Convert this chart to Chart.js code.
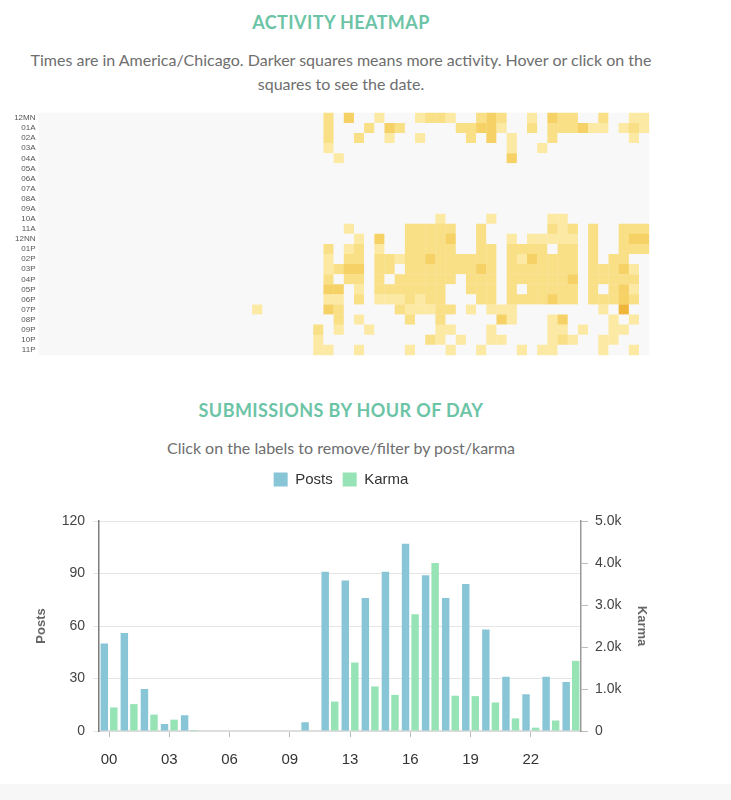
<!DOCTYPE html>
<html>
<head>
<meta charset="utf-8">
<title>Activity</title>
<script src="https://cdn.jsdelivr.net/npm/chart.js@4.4.0/dist/chart.umd.min.js"></script>
<style>
  html, body { margin: 0; padding: 0; background: #fff; }
  body { width: 731px; height: 800px; position: relative; overflow: hidden; font-family: Lato, "Open Sans", sans-serif; }
  .title { position: absolute; left: 0; width: 682px; font-size: 18px; font-weight: 700; color: #6cc4a6; letter-spacing: 0.4px; text-align: center; line-height: 24px; }
  .sub { position: absolute; left: 0; width: 682px; font-size: 16px; color: #6e6e6e; text-align: center; line-height: 24px; }
  canvas { position: absolute; }
  #footer { position: absolute; left: 0; top: 784px; width: 731px; height: 16px; background: #f7f7f7; }
</style>
</head>
<body>
<div class="title" style="top:10px">ACTIVITY HEATMAP</div>
<div class="sub" style="top:48px">Times are in America/Chicago. Darker squares means more activity. Hover or click on the<br>squares to see the date.</div>
<canvas id="heat" width="660" height="252" style="left:0;top:108px"></canvas>
<div class="title" style="top:398px">SUBMISSIONS BY HOUR OF DAY</div>
<div class="sub" style="top:436px">Click on the labels to remove/filter by post/karma</div>
<canvas id="hours" width="660" height="306" style="left:11px;top:462px"></canvas>
<div id="footer"></div>
<script>
// heatmap: one string per hour row, one digit per column (0 = nothing, 4 = most)
var hourRows = ["12MN", "01A", "02A", "03A", "04A", "05A", "06A", "07A", "08A", "09A", "10A", "11A",
  "12NN", "01P", "02P", "03P", "04P", "05P", "06P", "07P", "08P", "09P", "10P", "11P"];
var heatRows = [
  "0000000000 0000000000 0000000020 3001000122 1002320010 3220020011",
  "0000000000 0000000000 0000000020 0020320000 0223310020 2223110121",
  "0000000000 0000000000 0000000020 0200100100 0020301000 2000000010",
  "0000000000 0000000000 0000000010 0000000000 0000001001 0000000000",
  "0000000000 0000000000 0000000001 0000000000 0000003000 0000000000",
  "0000000000 0000000000 0000000000 0000000000 0000000000 0000000000",
  "0000000000 0000000000 0000000000 0000000000 0000000000 0000000000",
  "0000000000 0000000000 0000000000 0000000000 0000000000 0000000000",
  "0000000000 0000000000 0000000000 0000000000 0000000000 0000000000",
  "0000000000 0000000000 0000000000 0000000000 0000000000 0000000000",
  "0000000000 0000000000 0000000000 0000000001 0000100000 1100000000",
  "0000000000 0000000000 0000000000 1000002222 2002000000 2120200222",
  "0000000000 0000000000 0000000000 0103002222 3002001011 1110200233",
  "0000000000 0000000000 0000000020 1201002222 2002202222 0220200222",
  "0000000000 0000000000 0000000010 2202212232 2222202132 2220202200",
  "0000000000 0000000000 0000000012 3302202222 2223202222 2220222310",
  "0000000000 0000000000 0000000020 2202022222 2022202222 2230222220",
  "0000000000 0000000000 0000000033 0102222222 0022202022 2220202310",
  "0000000000 0000000000 0000000011 0201112122 0002202222 3220222320",
  "0000000000 0000000000 0100000032 0000021112 2010111000 0000010400",
  "0000000000 0000000000 0000000002 0100002002 0000031000 1300001010",
  "0000000000 0000000000 0000000201 0010000001 1000100000 1101001100",
  "0000000000 0000000000 0000000100 0000000021 0100110000 1210011000",
  "0000000000 0000000000 0000000110 0100001000 1001000101 1000010010"
];
var heatColors = ["#f8f8f8", "#fce9a4", "#f9df85", "#f6d266", "#f0b63a"];
var nCols = 60;

// bar chart
var hourLabels = ["00", "01", "02", "03", "04", "05", "06", "07", "08", "09", "10", "12",
  "13", "14", "15", "16", "17", "18", "19", "20", "21", "22", "23", "24"];
var posts = [50, 56, 24, 4, 9, 0, 0, 0, 0, 0, 5, 91, 86, 76, 91, 107, 89, 76, 84, 58, 31, 21, 31, 28];
var karma = [560, 640, 390, 270, 25, 0, 0, 0, 0, 0, 0, 700, 1630, 1060, 860, 2780, 4000, 840, 830, 680, 300, 80, 250, 1670];

Chart.defaults.font.family = "'Liberation Sans', Arial, sans-serif";

var cells = [];
heatRows.forEach(function(row, r) {
  var digits = row.replace(/ /g, "");
  for (var c = 0; c < digits.length; c++) {
    cells.push({x: c + 0.5, y: hourRows[r], v: Number(digits[c])});
  }
});

var heatBg = {
  id: "heatBg",
  beforeDatasetsDraw: function(chart) {
    var a = chart.chartArea;
    chart.ctx.save();
    chart.ctx.fillStyle = heatColors[0];
    chart.ctx.fillRect(a.left, a.top, a.width, a.height);
    chart.ctx.restore();
  }
};

function cellRadius(ctx) {
  var a = ctx.chart.chartArea;
  return a ? (a.width / nCols) / Math.SQRT2 + 0.15 : 5;
}

new Chart(document.getElementById("heat"), {
  type: "scatter",
  data: {
    datasets: [{
      data: cells,
      pointStyle: "rect",
      borderWidth: 0,
      backgroundColor: function(ctx) { return heatColors[ctx.raw ? ctx.raw.v : 0]; },
      radius: cellRadius,
      hoverRadius: cellRadius
    }]
  },
  options: {
    responsive: false,
    animation: false,
    layout: {padding: {top: 4, bottom: 4.5, right: 10.7, left: 0}},
    plugins: {legend: {display: false}, tooltip: {enabled: false}},
    scales: {
      x: {type: "linear", min: 0, max: nCols, display: false},
      y: {
        type: "category",
        labels: hourRows,
        offset: true,
        grid: {display: false, drawTicks: false, tickLength: 0},
        border: {display: false},
        ticks: {autoSkip: false, color: "#555", font: {size: 8}, padding: 3},
        afterFit: function(scale) {
          scale.width = 38.5;
          scale.paddingTop = 0;
          scale.paddingBottom = 0;
        }
      }
    }
  },
  plugins: [heatBg]
});

var legendGap = {
  id: "legendGap",
  beforeInit: function(chart) {
    var fit = chart.legend.fit;
    chart.legend.fit = function() {
      fit.call(this);
      this.height += 24;
    };
  }
};

new Chart(document.getElementById("hours"), {
  type: "bar",
  data: {
    labels: hourLabels,
    datasets: [
      {label: "Posts", data: posts, yAxisID: "y", backgroundColor: "#88c5d6", categoryPercentage: 0.95, barPercentage: 0.78},
      {label: "Karma", data: karma, yAxisID: "y1", backgroundColor: "#96e3b5", categoryPercentage: 0.95, barPercentage: 0.78}
    ]
  },
  options: {
    responsive: false,
    animation: false,
    layout: {padding: 0},
    plugins: {
      tooltip: {enabled: false},
      legend: {
        labels: {boxWidth: 14, boxHeight: 14, color: "#333", font: {size: 15}, padding: 10}
      }
    },
    scales: {
      x: {
        grid: {drawOnChartArea: false, offset: false, color: "#bbb", tickLength: 6},
        border: {color: "#ddd", width: 2},
        ticks: {
          autoSkip: false, maxRotation: 0, color: "#333", font: {size: 15}, padding: 14,
          callback: function(v, i) { return i % 3 === 0 ? this.getLabelForValue(v) : null; }
        },
        afterFit: function(scale) { scale.height = 37; }
      },
      y: {
        position: "left", min: 0, max: 120,
        ticks: {stepSize: 30, color: "#444", font: {size: 14}, padding: 8},
        grid: {color: "#e5e5e5", tickLength: 6},
        border: {color: "#7c7c7c", width: 1.5},
        title: {display: true, text: "Posts", color: "#666", font: {size: 13, weight: "bold"}, padding: {top: 23, bottom: 0}},
        afterFit: function(scale) { scale.width = 88; }
      },
      y1: {
        position: "right", min: 0, max: 5000,
        ticks: {
          stepSize: 1000, color: "#444", font: {size: 14}, padding: 7,
          callback: function(v) { return v === 0 ? "0" : (v / 1000).toFixed(1) + "k"; }
        },
        grid: {drawOnChartArea: false, color: "#bbb", tickLength: 7},
        border: {color: "#999", width: 1.5},
        title: {display: true, text: "Karma", color: "#666", font: {size: 13, weight: "bold"}, padding: {top: 22, bottom: 0}},
        afterFit: function(scale) { scale.width = 90; }
      }
    }
  },
  plugins: [legendGap]
});
</script>
</body>
</html>
